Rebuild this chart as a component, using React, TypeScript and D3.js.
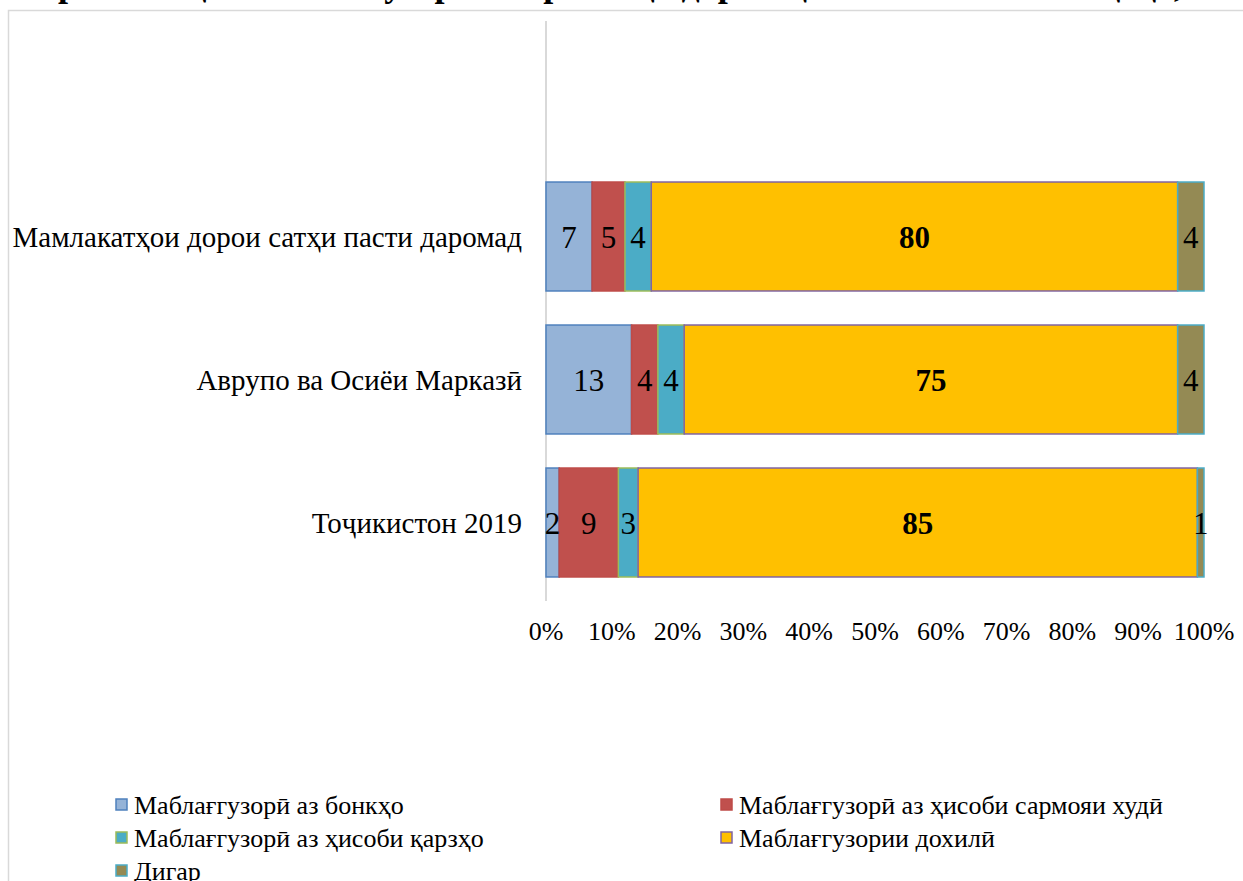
import * as d3 from 'd3'

// categories top to bottom
const categories = [
    'Мамлакатҳои дорои сатҳи пасти даромад',
    'Аврупо ва Осиёи Марказӣ',
    'Тоҷикистон 2019',
]

const seriesNames = [
    'Маблағгузорӣ аз бонкҳо',
    'Маблағгузорӣ аз ҳисоби сармояи худӣ',
    'Маблағгузорӣ аз ҳисоби қарзҳо',
    'Маблағгузории дохилӣ',
    'Дигар',
]

// values per series, same order as categories
const banks = [7, 13, 2]
const ownCapital = [5, 4, 9]
const loans = [4, 4, 3]
const internal = [80, 75, 85]
const other = [4, 4, 1]

const tickValues = [0, 10, 20, 30, 40, 50, 60, 70, 80, 90, 100]

const fills = ['#95B3D7', '#C0504D', '#4BACC6', '#FFC000', '#948A54']
const strokes = ['#4F81BD', '#BE4B48', '#9BBB59', '#8064A2', '#4BACC6']

const title = 'Сарчашмаҳои маблағгузории корхонаҳо дар Тоҷикистон ва минтақаҳо, %'

export default function App() {
    const width = 1243
    const height = 881
    const font = '"Liberation Serif", "Times New Roman", serif'

    const values = [banks, ownCapital, loans, internal, other]
    const rows = categories.map((c, i) => {
        const r: any = { category: c }
        values.forEach((v, k) => { r['s' + k] = v[i] })
        return r
    })
    const keys = values.map((_, k) => 's' + k)
    const stacked = d3.stack().keys(keys).offset(d3.stackOffsetExpand)(rows)

    const x = d3.scaleLinear().domain([0, 1]).range([546, 1204])
    const y = d3.scaleBand().domain(categories).range([165, 594])
        .paddingInner(0.238).paddingOuter(0.119)

    return (
        <svg width={width} height={height}
            style={{ position: 'absolute', left: 0, top: 0, background: '#fff' }}
            fontFamily={font}>
            <text x={621} y={-4} textAnchor="middle" fontSize={36} fontWeight="bold">{title}</text>
            <rect x={8.5} y={10.5} width={1400} height={1000} fill="none" stroke="#D9D9D9" strokeWidth={1.5} />
            <line x1={546} x2={546} y1={21} y2={601} stroke="#D9D9D9" strokeWidth={2} />

            {stacked.map((layer, k) => (
                <g key={k}>
                    {layer.map((d, i) => (
                        <rect key={i}
                            x={x(d[0])} y={y(categories[i])}
                            width={x(d[1]) - x(d[0])} height={y.bandwidth()}
                            fill={fills[k]} stroke={strokes[k]} strokeWidth={1.5} />
                    ))}
                </g>
            ))}

            {stacked.map((layer, k) => (
                <g key={'l' + k}>
                    {layer.map((d, i) => (
                        <text key={i}
                            x={(x(d[0]) + x(d[1])) / 2}
                            y={y(categories[i])! + y.bandwidth() / 2 + 11}
                            textAnchor="middle" fontSize={31}
                            fontWeight={k === 3 ? 'bold' : 'normal'}>
                            {values[k][i]}
                        </text>
                    ))}
                </g>
            ))}

            {categories.map(c => (
                <text key={c} x={522} y={y(c)! + y.bandwidth() / 2 + 10}
                    textAnchor="end" fontSize={29}>{c}</text>
            ))}

            {tickValues.map(t => (
                <text key={t} x={x(t / 100)} y={640} textAnchor="middle" fontSize={26}>{t}%</text>
            ))}

            {seriesNames.map((s, k) => {
                const col = k % 2
                const row = Math.floor(k / 2)
                const lx = col === 0 ? 116 : 721
                const ly = 805 + row * 33
                return (
                    <g key={s}>
                        <rect x={lx} y={ly - 6} width={11} height={11}
                            fill={fills[k]} stroke={strokes[k]} strokeWidth={1.5} />
                        <text x={lx + 18} y={ly + 9} fontSize={26}>{s}</text>
                    </g>
                )
            })}
        </svg>
    )
}
